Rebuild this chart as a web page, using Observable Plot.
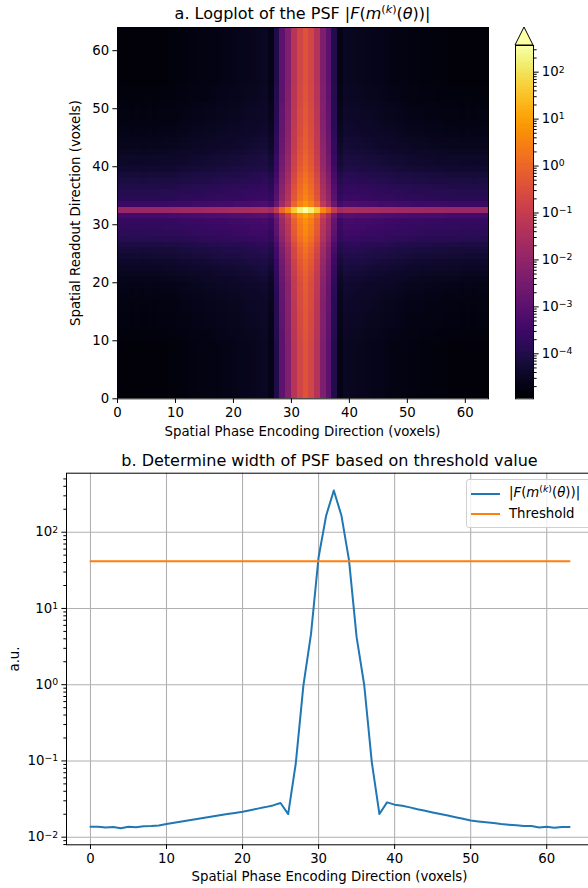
<!DOCTYPE html>
<html><head><meta charset="utf-8">
<script src="https://cdn.jsdelivr.net/npm/d3@7"></script>
<script src="https://cdn.jsdelivr.net/npm/@observablehq/plot@0.6"></script>
<style>
body{margin:0;background:#fff;}
#fig{position:relative;width:588px;height:888px;overflow:hidden;font-family:"DejaVu Sans",sans-serif;color:#000;background:#fff;}
.pane{position:absolute;}
.t{position:absolute;white-space:nowrap;line-height:1;transform:translate(-50%,-50%);}
.rot{transform:translate(-50%,-50%) rotate(-90deg);}
sup{font-size:0.7em;vertical-align:0.5em;line-height:0;}
</style></head><body><div id="fig"></div>
<script>
// ---------- DATA ----------
// Panel b: |F(m^(k)(theta))| along the phase-encoding direction (index 0..63)
const phaseIndex = d3.range(64);
const psfProfile = [
  0.0137,0.0137,0.0134,0.0136,0.0131,0.0137,0.0135,0.0139,0.0140,0.0142,
  0.0149,0.0155,0.0161,0.0167,0.0173,0.0180,0.0187,0.0194,0.0201,0.0208,
  0.0216,0.0226,0.0237,0.0248,0.0261,0.0281,0.0201,0.093,0.97,4.6,
  47,166,352,166,43,4.2,0.99,0.096,0.0201,0.0286,
  0.0267,0.0258,0.0246,0.0233,0.0222,0.0211,0.0201,0.0192,0.0183,0.0174,
  0.0165,0.0161,0.0157,0.0153,0.0149,0.0146,0.0143,0.0140,0.0140,0.0134,
  0.0137,0.0133,0.0136,0.0136
];
const thresholdValue = 41.7;
// Panel a: relative profile along the readout direction (row 32 = 1)
const readoutProfile = [
  0.0011,0.0011,0.0011,0.0011,0.0011,0.0011,0.0011,0.0011,0.0011,0.0011,
  0.0012,0.0012,0.0013,0.0013,0.0013,0.0014,0.0014,0.0015,0.0016,0.0017,
  0.0019,0.0022,0.0025,0.0030,0.0038,0.0045,0.0060,0.0090,0.0115,0.0135,
  0.016,0.030,1,0.020,0.0100,0.0085,0.0072,0.0055,0.0045,0.0034,
  0.0029,0.0027,0.0023,0.0020,0.0019,0.0017,0.0016,0.0015,0.0014,0.0014,
  0.0013,0.0012,0.0012,0.0012,0.0011,0.0011,0.0011,0.0011,0.0011,0.0011,
  0.0011,0.0011,0.0011,0.0011
];
const colorMin = 1.1e-5, colorMax = 370;
const axisTicks64 = [0,10,20,30,40,50,60];
const logMajor = [1e-2,1e-1,1e0,1e1,1e2];
const cbarMajor = [1e-4,1e-3,1e-2,1e-1,1e0,1e1,1e2];

// ---------- helpers ----------
const FS = 13.3, TS = 16, TICK = 4.67, MINOR = 2.67, PAD = 4.67;
const fmtPow = v => "10^" + String(Math.round(Math.log10(v))).replace("-", "\u2212");
function supify(svg) {
  d3.select(svg).selectAll("text").each(function () {
    const s = this.textContent;
    const m = /^10\^(.+)$/.exec(s);
    if (!m) return;
    const t = d3.select(this);
    t.text("10");
    t.append("tspan").attr("dy", "-0.42em").attr("font-size", "9.3px").text(m[1]);
  });
  return svg;
}
function minorTicks(lo, hi) {
  const out = [];
  for (let e = Math.floor(Math.log10(lo)); e <= Math.ceil(Math.log10(hi)); e++)
    for (let m = 2; m <= 9; m++) { const v = m * 10 ** e; if (v >= lo && v <= hi) out.push(v); }
  return out;
}
const FONT = "DejaVu Sans";
const colorScale = {type: "log", scheme: "inferno", domain: [colorMin, colorMax], clamp: true};
const fig = document.getElementById("fig");
function place(node, left, top) {
  const d = document.createElement("div");
  d.className = "pane"; d.style.left = left + "px"; d.style.top = top + "px";
  d.appendChild(node); fig.appendChild(d);
}
function text(html, x, y, size, cls) {
  const d = document.createElement("div");
  d.className = "t" + (cls ? " " + cls : "");
  d.style.left = x + "px"; d.style.top = y + "px"; d.style.fontSize = size + "px";
  d.innerHTML = html; fig.appendChild(d);
}

// ---------- Panel a: heatmap ----------
const cells = [];
for (const r of phaseIndex) for (const c of phaseIndex)
  cells.push({x: c, y: r, v: psfProfile[c] * readoutProfile[r]});

const heat = Plot.plot({
  width: 588, height: 445,
  marginLeft: 117, marginRight: 100, marginTop: 27, marginBottom: 46.7,
  style: {fontFamily: FONT, fontSize: FS + "px", background: "transparent", overflow: "visible"},
  x: {domain: [0, 64]},
  y: {domain: [0, 64]},
  color: colorScale,
  marks: [
    Plot.rect(cells, {x1: "x", x2: d => d.x + 1, y1: "y", y2: d => d.y + 1, fill: "v", shapeRendering: "crispEdges"}),
    Plot.frame({stroke: "black", strokeWidth: 1}),
    Plot.axisX(axisTicks64, {tickSize: TICK, tickPadding: PAD - 1, fontSize: FS, label: null}),
    Plot.axisY(axisTicks64, {tickSize: TICK, tickPadding: PAD - 1, fontSize: FS, label: null})
  ]
});
place(heat, 0, 0);

// ---------- colorbar ----------
const N = 200;
const ramp = d3.range(N).map(i => ({lo: colorMin * (colorMax / colorMin) ** (i / N), hi: colorMin * (colorMax / colorMin) ** ((i + 1) / N)}));
const cbar = Plot.plot({
  width: 73, height: 445,
  marginLeft: 0, marginRight: 55, marginTop: 45, marginBottom: 46.7,
  style: {fontFamily: FONT, fontSize: FS + "px", background: "transparent", overflow: "visible"},
  x: {domain: [0, 1], axis: null},
  y: {type: "log", domain: [colorMin, colorMax], axis: null},
  color: colorScale,
  marks: [
    Plot.rect(ramp, {x1: 0, x2: 1, y1: "lo", y2: "hi", fill: d => Math.sqrt(d.lo * d.hi), shapeRendering: "crispEdges"}),
    Plot.frame({stroke: "black", strokeWidth: 1}),
    Plot.axisY(minorTicks(colorMin, colorMax), {anchor: "right", tickSize: MINOR, tickFormat: () => "", label: null}),
    Plot.axisY(cbarMajor, {anchor: "right", tickSize: TICK, tickPadding: PAD - 1, tickFormat: fmtPow, fontSize: FS, label: null})
  ]
});
place(supify(cbar), 515, 0);
// extend-max triangle
const tri = document.createElementNS("http://www.w3.org/2000/svg", "svg");
tri.setAttribute("width", 20); tri.setAttribute("height", 20);
tri.innerHTML = `<polygon points="1,19 10,1 19,19" fill="${d3.interpolateInferno(1)}" stroke="black" stroke-width="1"/>`;
place(tri, 514, 26);

// ---------- Panel b: profile with threshold ----------
const lineData = phaseIndex.map(i => ({x: i, y: psfProfile[i]}));
const threshData = phaseIndex.map(i => ({x: i, y: thresholdValue}));
const yLo = 10 ** -2.1, yHi = 10 ** 2.774;
const prof = Plot.plot({
  width: 588, height: 443,
  marginLeft: 66, marginRight: -5, marginTop: 27.7, marginBottom: 43.7,
  style: {fontFamily: FONT, fontSize: FS + "px", background: "transparent"},
  x: {domain: [-3.15, 66.15]},
  y: {type: "log", domain: [yLo, yHi]},
  marks: [
    Plot.gridX(axisTicks64, {stroke: "#b0b0b0", strokeOpacity: 1, strokeWidth: 1.07}),
    Plot.gridY(logMajor, {stroke: "#b0b0b0", strokeOpacity: 1, strokeWidth: 1.07}),
    Plot.line(lineData, {x: "x", y: "y", stroke: "#1f77b4", strokeWidth: 2}),
    Plot.line(threshData, {x: "x", y: "y", stroke: "#ff7f0e", strokeWidth: 2}),
    Plot.frame({stroke: "black", strokeWidth: 1}),
    Plot.axisX(axisTicks64, {tickSize: TICK, tickPadding: PAD - 1, fontSize: FS, label: null}),
    Plot.axisY(minorTicks(yLo, yHi), {tickSize: MINOR, tickFormat: () => "", label: null}),
    Plot.axisY(logMajor, {tickSize: TICK, tickPadding: PAD - 1, tickFormat: fmtPow, fontSize: FS, label: null})
  ]
});
place(supify(prof), 0, 445);

// ---------- texts ----------
const psfMath = '|<i>F</i>(<i>m</i><sup>(<i>k</i>)</sup>(<i>θ</i>))|';
text('a. Logplot of the PSF ' + psfMath, 302.5, 14, TS);
text('Spatial Phase Encoding Direction (voxels)', 302.5, 432, FS);
text('Spatial Readout Direction (voxels)', 76, 212.6, FS, "rot");
text('b. Determine width of PSF based on threshold value', 329.5, 461, TS);
text('Spatial Phase Encoding Direction (voxels)', 329.5, 877, FS);
text('a.u.', 15, 658.5, FS, "rot");

// legend
const leg = document.createElement("div");
leg.style.cssText = `position:absolute;left:466px;top:479px;width:125px;height:47px;border:1px solid #d0d0d0;border-radius:3px;background:rgba(255,255,255,0.8);font-size:${FS}px;`;
leg.innerHTML = `
 <div style="position:absolute;left:4px;top:13px;width:29px;border-top:2px solid #1f77b4"></div>
 <div style="position:absolute;left:42px;top:6px;line-height:1;white-space:nowrap">${psfMath}</div>
 <div style="position:absolute;left:4px;top:33px;width:29px;border-top:2px solid #ff7f0e"></div>
 <div style="position:absolute;left:42px;top:27px;line-height:1;white-space:nowrap">Threshold</div>`;
fig.appendChild(leg);
</script></body></html>
